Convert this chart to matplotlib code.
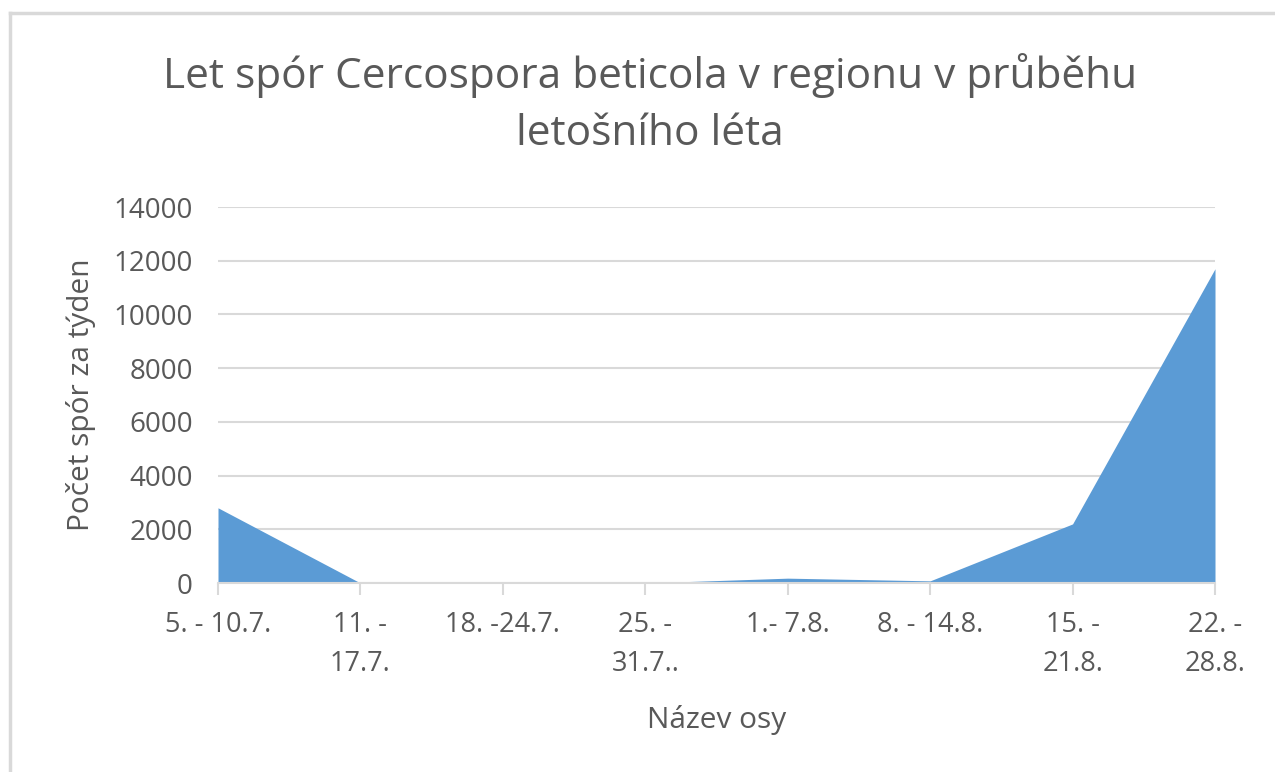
import matplotlib.pyplot as plt
from matplotlib.lines import Line2D

plt.rcParams['font.family'] = ['Open Sans', 'DejaVu Sans']

# data
weeks = ["5. - 10.7.", "11. -\n17.7.", "18. -24.7.", "25. -\n31.7..",
         "1.- 7.8.", "8. - 14.8.", "15. -\n21.8.", "22. -\n28.8."]
spores = [2800, 0, 0, 0, 180, 80, 2200, 11700]
yticks = [0, 2000, 4000, 6000, 8000, 10000, 12000, 14000]

text_col = "#595959"
fill_col = "#5B9BD5"
grid_col = "#D9D9D9"

fig = plt.figure(figsize=(12.75, 7.72), dpi=100)
ax = fig.add_axes([218 / 1275, 1 - 583 / 772, (1215 - 218) / 1275, (583 - 207) / 772])

x = list(range(len(weeks)))
ax.fill_between(x, spores, 0, color=fill_col, linewidth=0, zorder=2)

ax.set_xlim(0, len(weeks) - 1)
ax.set_ylim(0, 14000)
ax.set_yticks(yticks)
ax.set_yticklabels([str(v) for v in yticks])
ax.set_xticks(x)
ax.set_xticklabels(weeks, linespacing=1.55)

ax.grid(axis='y', color=grid_col, linewidth=1.5, zorder=0)
ax.set_axisbelow(True)
for s in ["top", "right", "left"]:
    ax.spines[s].set_visible(False)
ax.spines["bottom"].set_color(grid_col)
ax.spines["bottom"].set_linewidth(1.5)
ax.spines["bottom"].set_zorder(3)

ax.tick_params(axis='y', length=0, pad=18, labelsize=20, labelcolor=text_col)
ax.tick_params(axis='x', length=8.5, width=1.5, color=grid_col, pad=11.5,
               labelsize=19.5, labelcolor=text_col)

ax.set_ylabel("Počet spór za týden", fontsize=21.5, color=text_col, labelpad=13)
ax.set_xlabel("Název osy", fontsize=21.5, color=text_col, labelpad=19)

fig.text(650 / 1275, 1 - 104 / 772,
         "Let spór Cercospora beticola v regionu v průběhu\nletošního léta",
         ha='center', va='center', fontsize=30.5, color=text_col, linespacing=1.45)

# chart frame (only top and left edges visible)
fig.add_artist(Line2D([10 / 1275, 10 / 1275], [0, 1 - 13 / 772],
                      transform=fig.transFigure, color=grid_col, linewidth=2.5))
fig.add_artist(Line2D([10 / 1275, 1], [1 - 13 / 772, 1 - 13 / 772],
                      transform=fig.transFigure, color=grid_col, linewidth=2.5))

fig.savefig("out.png", dpi=100)
